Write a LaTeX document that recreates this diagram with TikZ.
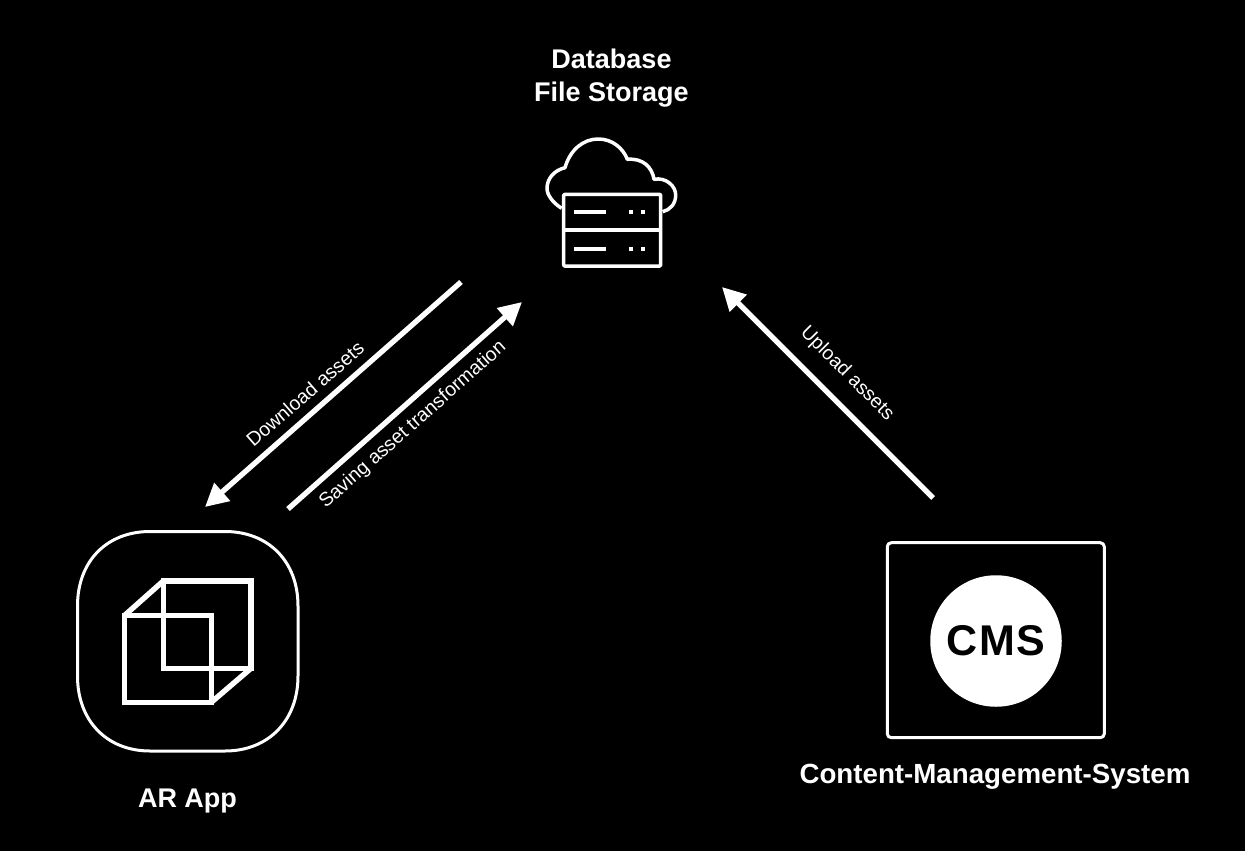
\documentclass[tikz,border=0pt]{standalone}
\usepackage{fontspec}
\setmainfont{Liberation Sans}
\usetikzlibrary{arrows.meta}
\tikzset{
  icon/.style={draw=white,line join=round},
  title/.style={text=white,font=\fontsize{27}{33}\selectfont\bfseries,align=center,inner sep=0pt},
  edgelabel/.style={text=white,font=\fontsize{19.5}{24}\selectfont,inner sep=0pt},
  flow/.style={draw=white,line width=5.3pt,-{Triangle[length=23pt,width=23pt]}}
}
\begin{document}
\begin{tikzpicture}[x=1pt,y=-1pt]
\useasboundingbox (0,0) rectangle (1245,851);
\fill[black] (0,0) rectangle (1245,851);
% titles
\node[title] (dbtitle) at (611.5,78) {Database\\File Storage};
\node[title] (artitle) at (187.5,801) {AR App};
\node[title,font=\fontsize{27.7}{33}\selectfont\bfseries] (cmstitle) at (995,777) {Content-Management-System};
% cloud + server
\draw[icon,line width=3.5pt] (561.7,208.3) .. controls (553,203) and (547,195) .. (547,188.3)
  .. controls (547,178) and (555,170) .. (565,167.7)
  .. controls (570,150) and (583,139) .. (598.3,139)
  .. controls (612,139) and (623,148) .. (627.3,159.3)
  .. controls (643,158) and (652,167) .. (654,179.3)
  .. controls (666,177) and (675.7,186) .. (675.7,195)
  .. controls (675.7,204) and (670,210) .. (662.7,211.7);
\node[icon,line width=3.5pt,minimum width=97pt,minimum height=71.7pt,inner sep=0pt,rounded corners=1pt] (server) at (612.2,230.2) {};
\draw[icon,line width=3.5pt] (server.west) -- (server.east);
\foreach \y in {212.3,249.3}{
  \fill[white] (574.3,\y-2) rectangle (605.7,\y+2);
  \fill[white] (628.7,\y-2) rectangle (632.7,\y+2);
  \fill[white] (640.7,\y-2) rectangle (644.7,\y+2);
}
% app icon
\draw[icon,line width=3pt] (150,531.5) -- (225,531.5)
  .. controls (268,531.5) and (298,561) .. (298,606) -- (298,676)
  .. controls (298,721) and (268,751) .. (225,751) -- (150,751)
  .. controls (107,751) and (77.5,721) .. (77.5,676) -- (77.5,606)
  .. controls (77.5,561) and (107,531.5) .. (150,531.5) -- cycle;
\draw[icon,line width=5.4pt,line join=miter]
  (124.7,615.3) rectangle (211.3,702.3)
  (163.3,581) rectangle (251,668.3);
\draw[icon,line width=5.4pt,line cap=round]
  (124.7,615.3) -- (163.3,581)
  (211.3,702.3) -- (251,668.3);
% cms icon
\node[icon,line width=3pt,minimum width=217pt,minimum height=195pt,inner sep=0pt,rounded corners=4pt] (cmsbox) at (995.8,640.2) {};
\node[circle,fill=white,minimum size=131.5pt,inner sep=0pt,text=black,font=\fontsize{43}{43}\selectfont\bfseries] (cms) at (996,641) {\addfontfeatures{LetterSpace=4}CMS};
% connectors
\coordinate (dlA) at (461,282);
\coordinate (dlB) at (205,507);
\coordinate (svA) at (288,509);
\coordinate (svB) at (522,302);
\coordinate (upA) at (933,498);
\coordinate (upB) at (722,287);
\draw[flow] (dlA) -- (dlB);
\draw[flow] (svA) -- (svB);
\draw[flow] (upA) -- (upB);
% labels
\node[edgelabel,rotate=41] (dllabel) at (305,394) {Download assets};
\node[edgelabel,rotate=41.5] (svlabel) at (413,425) {Saving asset transformation};
\node[edgelabel,rotate=-45] (uplabel) at (847,374) {Upload assets};
\end{tikzpicture}
\end{document}
